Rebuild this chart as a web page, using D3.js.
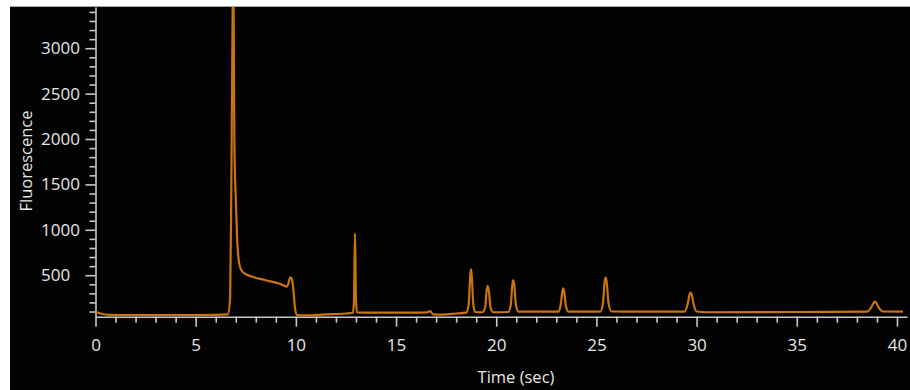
<!DOCTYPE html>
<html>
<head>
<meta charset="utf-8">
<script src="https://cdn.jsdelivr.net/npm/d3@7"></script>
<style>
  body { margin: 0; background: #fff; }
  text { font-family: "Open Sans", sans-serif; fill: #e6e6e6; }
</style>
</head>
<body>
<div id="wrapper"></div>
<script>
// electropherogram trace (time in sec, fluorescence)
const times = [
  0.0, 0.3, 0.7, 1.5, 3.0, 5.0, 6.0, 6.6,
  6.72, 6.78, 6.84, 6.88, 6.93, 7.0, 7.07, 7.13, 7.22, 7.4, 7.8, 8.5, 9.2, 9.55,
  9.63, 9.72, 9.8, 9.88, 9.95, 10.05, 10.5, 11.5, 12.5,
  12.85, 12.9, 12.95, 13.0, 13.05, 14.0, 15.0, 16.0,
  16.55, 16.7, 16.85, 17.3, 18.0, 18.5,
  18.62, 18.7, 18.74, 18.78, 18.86, 18.95, 19.3,
  19.45, 19.52, 19.57, 19.63, 19.72, 19.85, 20.6,
  20.73, 20.8, 20.85, 20.9, 20.98, 21.1, 23.1,
  23.22, 23.3, 23.34, 23.39, 23.47, 23.6, 25.2,
  25.33, 25.41, 25.46, 25.51, 25.6, 25.75, 29.4,
  29.55, 29.65, 29.7, 29.75, 29.85, 30.0, 30.5, 35.0, 38.5,
  38.7, 38.85, 38.9, 38.95, 39.1, 39.3, 40.3
];
const fluorescence = [
  98, 75, 64, 62, 62, 62, 63, 68,
  250, 1500, 3300, 3900, 1990, 1350, 890, 700, 585, 525, 485, 445, 405, 375,
  410, 477, 460, 330, 150, 62, 58, 68, 78,
  86, 220, 961, 220, 90, 88, 88, 88,
  90, 104, 68, 66, 78, 88,
  170, 480, 568, 480, 170, 95, 92,
  150, 330, 384, 330, 140, 92, 95,
  180, 390, 447, 390, 180, 98, 98,
  180, 320, 356, 320, 170, 100, 100,
  200, 430, 475, 430, 200, 100, 98,
  180, 290, 312, 290, 180, 100, 92, 95, 98,
  140, 200, 208, 200, 140, 100, 98
];
const xTicks = d3.range(0, 41, 1);
const yTicks = d3.range(100, 3500, 100);
const xLabelStep = 5;
const yLabelStep = 500;

const dataset = times.map((t, i) => ({ t, v: fluorescence[i] }));

const width = 910;
const height = 390;

const svg = d3.select("#wrapper")
  .append("svg")
  .attr("width", width)
  .attr("height", height);

// dark panel with a thin gray edge on top
svg.append("rect")
  .attr("x", 10).attr("y", 7)
  .attr("width", width - 10).attr("height", height - 7)
  .attr("fill", "#030303");
svg.append("line")
  .attr("x1", 10).attr("x2", width)
  .attr("y1", 6.5).attr("y2", 6.5)
  .attr("stroke", "#a8a8a8");

const xScale = d3.scaleLinear().domain([0, 40.5]).range([95.5, 907]);
const yScale = d3.scaleLinear().domain([43, 3454]).range([316.7, 7]);

svg.append("defs").append("clipPath").attr("id", "plot-clip")
  .append("rect")
  .attr("x", 95.5).attr("y", 7)
  .attr("width", 812).attr("height", 310);

// axes
const xAxis = d3.axisBottom(xScale)
  .tickValues(xTicks)
  .tickSizeOuter(0)
  .tickFormat((d) => (d % xLabelStep === 0 ? d : ""));

const xAxisGroup = svg.append("g")
  .attr("transform", `translate(0, ${yScale.range()[0]})`)
  .call(xAxis);

const yAxis = d3.axisLeft(yScale)
  .tickValues(yTicks)
  .tickSizeOuter(0)
  .tickFormat((d) => (d % yLabelStep === 0 ? d : ""));

const yAxisGroup = svg.append("g")
  .attr("transform", `translate(${xScale.range()[0]}, 0)`)
  .call(yAxis);

[xAxisGroup, yAxisGroup].forEach((g) => {
  g.select(".domain").attr("stroke", "#c8c8c8").attr("stroke-width", 1.6);
  g.selectAll(".tick line").attr("stroke", "#c8c8c8").attr("stroke-width", 1.6);
  g.selectAll(".tick text")
    .style("font-family", "'Open Sans', sans-serif")
    .style("font-size", "17px")
    .attr("fill", "#e6e6e6");
});

xAxisGroup.selectAll(".tick line")
  .attr("y2", (d) => (d % xLabelStep === 0 ? 10 : 6));
xAxisGroup.selectAll(".tick text").attr("y", 22);

yAxisGroup.selectAll(".tick line")
  .attr("x2", (d) => (d % yLabelStep === 0 ? -10 : -6));
yAxisGroup.selectAll(".tick text")
  .attr("text-anchor", "start")
  .attr("x", 41 - xScale.range()[0]);

// axis titles
svg.append("text")
  .attr("x", 516).attr("y", 383)
  .attr("text-anchor", "middle")
  .style("font-size", "16.5px")
  .text("Time (sec)");

svg.append("text")
  .attr("transform", "translate(32, 161) rotate(-90)")
  .attr("text-anchor", "middle")
  .style("font-size", "16.5px")
  .text("Fluorescence");

// trace
const lineGenerator = d3.line()
  .x((d) => xScale(d.t))
  .y((d) => yScale(d.v))
  .curve(d3.curveMonotoneX);

svg.append("path")
  .attr("clip-path", "url(#plot-clip)")
  .attr("d", lineGenerator(dataset))
  .attr("fill", "none")
  .attr("stroke", "#c97410")
  .attr("stroke-width", 2.2);
</script>
</body>
</html>
